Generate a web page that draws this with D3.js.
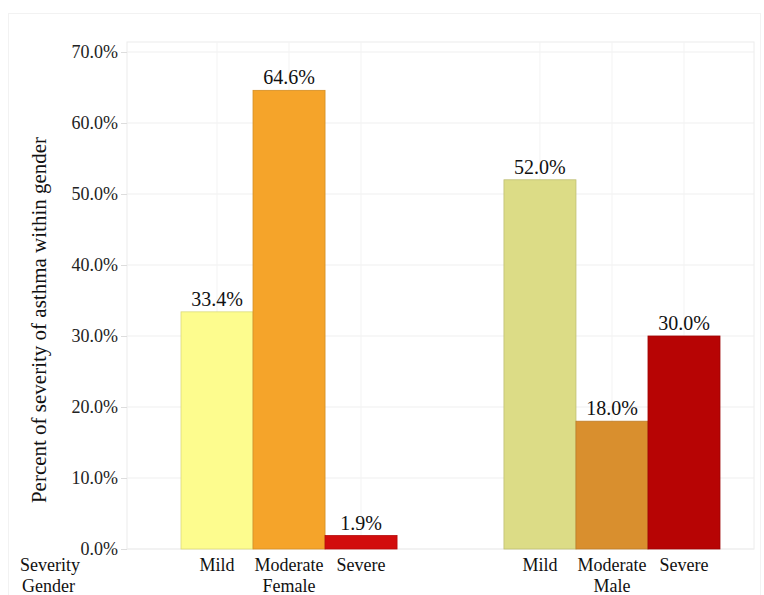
<!DOCTYPE html>
<html>
<head>
<meta charset="utf-8">
<script src="https://cdn.jsdelivr.net/npm/d3@7"></script>
<style>
  body { margin: 0; background: #fff; }
  svg text { font-family: "Liberation Serif", "Tinos", "Nimbus Roman", "Nimbus Roman No9 L", "DejaVu Serif", serif !important; }
</style>
</head>
<body>
<div class="chart"></div>
<script>
// data
var genders = ["Female", "Male"];
var severities = ["Mild", "Moderate", "Severe"];
var femaleValues = [33.4, 64.6, 1.9];
var maleValues = [52.0, 18.0, 30.0];
var yTicks = [0, 10, 20, 30, 40, 50, 60, 70];
var femaleColors = ["#fdfc8e", "#f5a42a", "#d20d0d"];
var maleColors = ["#dcdc86", "#d98f2e", "#b70404"];

var svgWidth = 764, svgHeight = 595;
var margin = { top: 42, right: 10, bottom: 46, left: 127 };
var chartWidth = svgWidth - margin.left - margin.right;
var chartHeight = svgHeight - margin.top - margin.bottom;

var svg = d3.select(".chart").append("svg")
    .attr("width", svgWidth)
    .attr("height", svgHeight);

// faint outer frame
svg.append("rect")
    .attr("x", 8.5).attr("y", 13.5)
    .attr("width", svgWidth - 12).attr("height", svgHeight - 10)
    .attr("fill", "none").attr("stroke", "#f2f2f2");

var g = svg.append("g")
    .attr("transform", `translate(${margin.left}, ${margin.top})`);

// build rows
var rows = [];
genders.forEach(function (gender, gi) {
    var vals = gi === 0 ? femaleValues : maleValues;
    var cols = gi === 0 ? femaleColors : maleColors;
    severities.forEach(function (sev, si) {
        rows.push({ gender: gender, severity: sev, value: vals[si], color: cols[si] });
    });
});

var yScale = d3.scaleLinear().domain([0, 70]).range([chartHeight, 10]);

var x0 = d3.scaleBand().domain(genders)
    .range([54, 593]).paddingInner(0.331).paddingOuter(0);
var x1 = d3.scaleBand().domain(severities)
    .range([0, x0.bandwidth()]).padding(0);

// plot border
g.append("rect")
    .attr("x", 0).attr("y", 0)
    .attr("width", chartWidth).attr("height", chartHeight)
    .attr("fill", "none").attr("stroke", "#ececec");

// gridlines
g.selectAll(".hgrid").data(yTicks).enter().append("line")
    .attr("x1", 0).attr("x2", chartWidth)
    .attr("y1", d => yScale(d)).attr("y2", d => yScale(d))
    .attr("stroke", "#efefef");

g.selectAll(".vgrid").data(rows).enter().append("line")
    .attr("x1", d => x0(d.gender) + x1(d.severity) + x1.bandwidth() / 2)
    .attr("x2", d => x0(d.gender) + x1(d.severity) + x1.bandwidth() / 2)
    .attr("y1", 0).attr("y2", chartHeight)
    .attr("stroke", "#f3f3f3");

// y axis
var yAxis = d3.axisLeft(yScale).tickValues(yTicks)
    .tickFormat(d => d.toFixed(1) + "%").tickSize(6).tickPadding(3);
var ya = g.append("g").call(yAxis).attr("font-size", 18);
ya.select(".domain").remove();
ya.selectAll("line").attr("stroke", "#dddddd");
ya.selectAll("text").attr("fill", "#222");

// bars
g.selectAll(".bar").data(rows).enter().append("rect")
    .attr("x", d => x0(d.gender) + x1(d.severity))
    .attr("y", d => yScale(d.value))
    .attr("width", x1.bandwidth())
    .attr("height", d => yScale(0) - yScale(d.value))
    .attr("fill", d => d.color)
    .attr("stroke", d => d3.color(d.color).darker(0.4))
    .attr("stroke-width", 0.8);

// value labels
g.selectAll(".lbl").data(rows).enter().append("text")
    .attr("x", d => x0(d.gender) + x1(d.severity) + x1.bandwidth() / 2)
    .attr("y", d => yScale(d.value) - 6)
    .attr("text-anchor", "middle")
    .attr("font-size", 20)
    .attr("fill", "#111")
    .text(d => d.value.toFixed(1) + "%");

// category labels
g.selectAll(".cat").data(rows).enter().append("text")
    .attr("x", d => x0(d.gender) + x1(d.severity) + x1.bandwidth() / 2)
    .attr("y", chartHeight + 22)
    .attr("text-anchor", "middle")
    .attr("font-size", 18)
    .attr("fill", "#111")
    .text(d => d.severity);

g.selectAll(".grp").data(genders).enter().append("text")
    .attr("x", d => x0(d) + x0.bandwidth() / 2)
    .attr("y", chartHeight + 43)
    .attr("text-anchor", "middle")
    .attr("font-size", 18)
    .attr("fill", "#111")
    .text(d => d);

svg.append("text").attr("x", 20).attr("y", margin.top + chartHeight + 22)
    .attr("font-size", 18).attr("fill", "#111").text("Severity");
svg.append("text").attr("x", 22).attr("y", margin.top + chartHeight + 43)
    .attr("font-size", 18).attr("fill", "#111").text("Gender");

// y axis title
svg.append("text")
    .attr("transform", "translate(46, 320) rotate(-90)")
    .attr("text-anchor", "middle")
    .attr("font-size", 21)
    .attr("fill", "#111")
    .text("Percent of severity of asthma within gender");
</script>
</body>
</html>
